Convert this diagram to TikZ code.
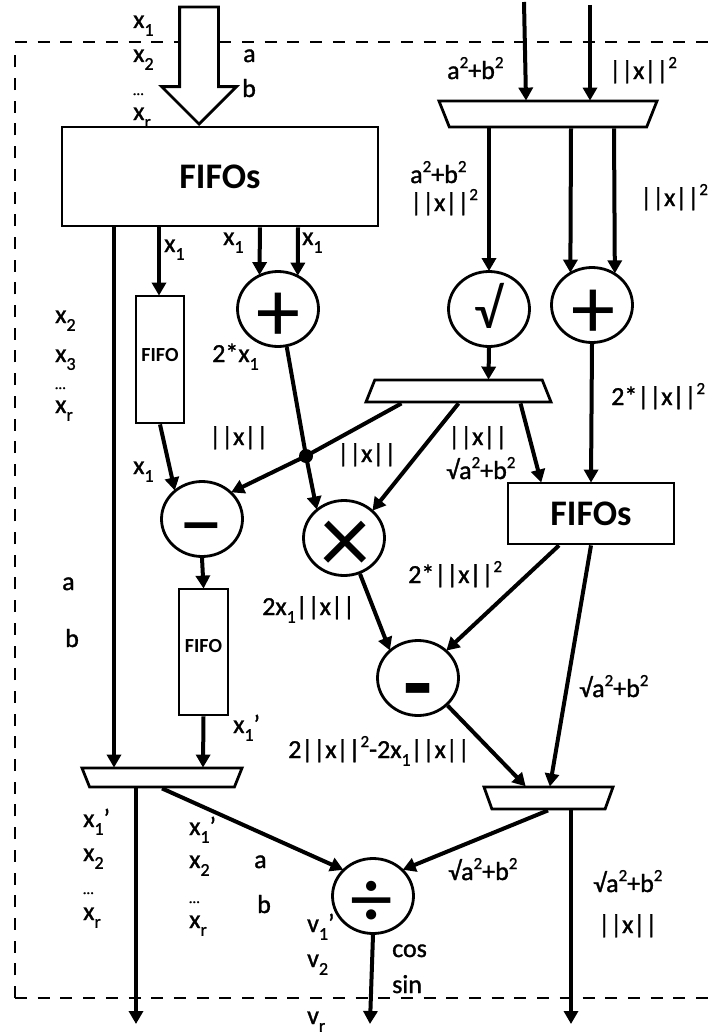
\documentclass[tikz,border=0pt]{standalone}
\usepackage{fontspec}
\setmainfont{Carlito}
\newfontfamily\labfont[FakeBold=1.2]{Carlito}
\usetikzlibrary{arrows.meta,shapes.geometric,shapes.arrows}
\newcommand{\sbs}[1]{\raisebox{-0.3em}{\fontsize{18}{18}\selectfont #1}}
\newcommand{\tw}{\raisebox{0.42em}{\fontsize{17}{17}\selectfont 2}}
\newcommand{\xa}{x\sbs{1}}
\newcommand{\xb}{x\sbs{2}}
\newcommand{\xr}{x\sbs{r}}
\newcommand{\nrm}{||x||}
\newcommand{\rab}{√a\tw+b\tw}
\tikzset{
  lab/.style={anchor=base west,inner sep=0pt,font=\fontsize{26}{26}\selectfont\labfont},
  dotsl/.style={anchor=base west,inner sep=0pt,font=\fontsize{15}{15}\selectfont\labfont},
  box/.style={draw=black,line width=2.8pt,fill=white,inner sep=0pt,rectangle},
  big/.style={font=\fontsize{36}{36}\selectfont\bfseries},
  small/.style={font=\fontsize{20}{20}\selectfont\bfseries},
  opc/.style={draw=black,line width=2.8pt,fill=white,ellipse,inner sep=0pt,minimum width=81pt,minimum height=75pt},
  glyph/.style={inner sep=0pt},
  mux/.style={draw=black,line width=2.8pt,fill=white,trapezium,inner sep=1pt,trapezium stretches=true,trapezium left angle=87,trapezium right angle=87},
  wire/.style={line width=4pt,-{Triangle[length=13pt,width=14pt]},shorten >=-1pt},
  border/.style={line width=2.8pt,dash pattern=on 12pt off 10.7pt}
}
\begin{document}
\begin{tikzpicture}[x=1pt,y=-1pt]
\useasboundingbox (0,0) rectangle (722,1033);
% dashed frame
\coordinate (cbl) at (15,998);
\coordinate (ctl) at (15,42);
\coordinate (ctr) at (714,42);
\coordinate (cbr) at (714,998);
\coordinate (cl) at (15,52);
\draw[border] (ctl) -- (ctr);
\draw[border] (cbl) -- (cl);
\draw[border] (cbl) -- (cbr);
% labels
\node[lab] (t1) at (133,28) {\xa};
\node[lab] (t2) at (133,62) {\xb};
\node[dotsl] (t3) at (133,95) {…};
\node[lab] (t4) at (133,120) {\xr};
\node[lab] (t5) at (243,62) {a};
\node[lab] (t6) at (242,97) {b};
\node[lab] (t7) at (447,79) {a\tw+b\tw};
\node[lab] (t8) at (609,79) {\nrm\tw};
\node[lab] (t9) at (410,183) {a\tw+b\tw};
\node[lab] (t10) at (410,211) {\nrm\tw};
\node[lab] (t11) at (640,206) {\nrm\tw};
\node[lab] (t12) at (164,252) {\xa};
\node[lab] (t13) at (223,245) {\xa};
\node[lab] (t14) at (302,245) {\xa};
\node[lab] (t15) at (55,323) {\xb};
\node[lab] (t16) at (55,362) {x\sbs{3}};
\node[dotsl] (t17) at (55,389) {…};
\node[lab] (t18) at (55,413) {\xr};
\node[lab] (t19) at (212,362) {2*\xa};
\node[lab] (t20) at (611,405) {2*\nrm\tw};
\node[lab] (t21) at (209,445) {\nrm};
\node[lab] (t22) at (337,462) {\nrm};
\node[lab] (t23) at (448,445) {\nrm};
\node[lab] (t24) at (446,479) {\rab};
\node[lab] (t25) at (133,474) {\xa};
\node[lab] (t26) at (408,583) {2*\nrm\tw};
\node[lab] (t27) at (62,590) {a};
\node[lab] (t28) at (65,647) {b};
\node[lab] (t29) at (262,615) {2\xa\nrm};
\node[lab] (t30) at (579,697) {\rab};
\node[lab] (t31) at (233,733) {\xa’};
\node[lab] (t32) at (288,758) {2\nrm\tw-2\xa\nrm};
\node[lab] (t33) at (83,827) {\xa’};
\node[lab] (t34) at (83,861) {\xb};
\node[dotsl] (t35) at (83,894) {…};
\node[lab] (t36) at (83,920) {\xr};
\node[lab] (t37) at (189,835) {\xa’};
\node[lab] (t38) at (189,868) {\xb};
\node[dotsl] (t39) at (189,903) {…};
\node[lab] (t40) at (189,928) {\xr};
\node[lab] (t41) at (254,868) {a};
\node[lab] (t42) at (257,913) {b};
\node[lab] (t43) at (307,932) {v\sbs{1}’};
\node[lab] (t44) at (307,967) {v\sbs{2}};
\node[lab] (t45) at (307,1024) {v\sbs{r}};
\node[lab] (t46) at (392,957) {cos};
\node[lab] (t47) at (392,993) {sin};
\node[lab] (t48) at (448,880) {\rab};
\node[lab] (t49) at (593,892) {\rab};
\node[lab] (t50) at (598,933) {\nrm};
% input arrow
\node[draw=black,fill=white,line width=2.8pt,single arrow,shape border rotate=270,inner sep=18pt,
  minimum height=117pt,single arrow head extend=18pt,single arrow tip angle=90,anchor=tip] (inp) at (199,126) {};
% blocks
\node[box,big,minimum width=316pt,minimum height=99pt] (ff) at (220,176.5) {FIFOs};
\node[box,small,minimum width=48pt,minimum height=127pt] (f1) at (160,359.5) {\raisebox{10pt}{FIFO}};
\node[box,small,minimum width=49pt,minimum height=126pt] (f2) at (203.5,652) {\raisebox{12pt}{FIFO}};
\node[box,big,minimum width=166pt,minimum height=61pt] (ff2) at (591,513.5) {FIFOs};
\node[opc] (plusa) at (278,309) {};
\node[opc] (sq) at (489,309) {};
\node[opc] (plusb) at (592,305) {};
\node[opc] (mina) at (202,519) {};
\node[opc] (mul) at (344,538) {};
\node[opc] (minb) at (418,678) {};
\node[opc] (dv) at (373,896) {};
\node[glyph,font=\fontsize{88}{88}\selectfont] (g1) at (278,317) {+};
\node[glyph,font=\fontsize{56}{56}\selectfont] (g2) at (488,306) {√};
\node[glyph,font=\fontsize{88}{88}\selectfont] (g3) at (593,314) {+};
\node[glyph,font=\fontsize{88}{88}\selectfont] (g4) at (201,538) {−};
\node[glyph,font=\fontsize{100}{100}\selectfont] (g5) at (345,547) {×};
\node[glyph,font=\fontsize{95}{95}\selectfont\bfseries] (g6) at (418,699) {-};
\node[glyph,font=\fontsize{85}{85}\selectfont] (g7) at (372,904) {÷};
% muxes
\node[mux,shape border rotate=180,minimum width=218pt,minimum height=26pt] (ma) at (548,114) {};
\node[mux,minimum width=185pt,minimum height=22pt] (mb) at (458.5,391) {};
\node[mux,shape border rotate=180,minimum width=160pt,minimum height=19pt] (mc) at (162,777.5) {};
\node[mux,shape border rotate=180,minimum width=129pt,minimum height=22pt,trapezium left angle=86,trapezium right angle=86] (md) at (548.5,798) {};
% free ends
\coordinate (ia) at (524,2);
\coordinate (ib) at (590,5);
\coordinate (oa) at (136,1023);
\coordinate (ob) at (370,1023);
\coordinate (oc) at (571,1023);
\coordinate (jn) at (306,456);
% connectors
\draw[wire] (ia) -- ([xshift=-22pt]ma.north);
\draw[wire] (ib) -- ([xshift=42pt]ma.north);
\draw[wire] ([xshift=-59pt]ma.south) -- (sq.north);
\draw[wire] ([xshift=23pt]ma.south) -- (plusb.123);
\draw[wire] ([xshift=66pt]ma.south) -- (plusb.55);
\draw[wire] ([xshift=-106pt]ff.south) -- ([xshift=-48pt]mc.north);
\draw[wire] ([xshift=-61pt]ff.south) -- ([xshift=-1pt]f1.north);
\draw[wire] ([xshift=40pt]ff.south) -- (plusa.118);
\draw[wire] ([xshift=78pt]ff.south) -- (plusa.60);
\draw[wire] (sq.south) -- ([xshift=30pt]mb.north);
\draw[wire] (plusb.south) -- ([xshift=0pt]ff2.north);
\draw[wire] (f1.south) -- (mina.133);
\draw[wire] (mina.south) -- (f2.north);
\draw[wire] (f2.south) -- ([xshift=41pt]mc.north);
\draw[wire] (plusa.-77) -- (jn) -- (mul.133);
\draw[wire] ([xshift=-57pt]mb.south) -- (jn) -- (mina.42);
\draw[wire] (mb.south) -- (mul.44);
\draw[wire] ([xshift=62pt]mb.south) -- ([xshift=-50pt]ff2.north);
\draw[wire] (mul.-66) -- (minb.135);
\draw[wire] ([xshift=-32pt]ff2.south) -- (minb.44);
\draw[wire] (ff2.south) -- ([xshift=1.5pt]md.north);
\draw[wire] (minb.-43) -- ([xshift=-23.5pt]md.north);
\draw[wire] ([xshift=-26pt]mc.south) -- (oa);
\draw[wire] (dv.south) -- (ob);
\draw[wire] ([xshift=22.5pt]md.south) -- (oc);
\draw[wire] ([xshift=0pt]mc.south) -- (dv.139);
\draw[wire] ([xshift=-0.5pt]md.south) -- (dv.41);
\fill (jn) circle (7pt);
\end{tikzpicture}
\end{document}
